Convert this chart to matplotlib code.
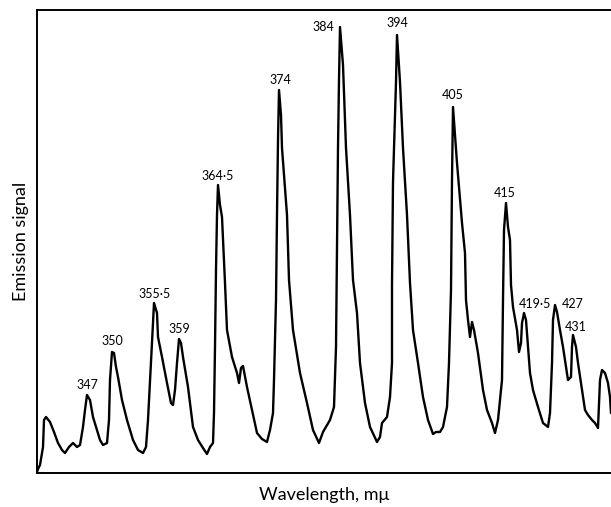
import matplotlib
matplotlib.use("Agg")
import matplotlib.pyplot as plt

# trace (arbitrary scan units / signal units)
scan_pos = [0, 1, 3, 6, 7, 9, 13, 17, 21, 25, 28, 32, 36, 40, 43, 46, 48, 50, 53, 56,
            60, 63, 66, 70, 72, 73, 75, 77, 79, 81, 85, 90, 96, 101, 106, 109, 111, 114,
            116, 117, 120, 121, 125, 130, 134, 136, 138, 140, 142, 144, 146, 151, 156, 161,
            166, 170, 173, 176, 177, 178, 179, 180, 181, 183, 185, 188, 190, 195, 200, 202,
            204, 206, 210, 215, 220, 225, 230, 233, 236, 237, 239, 240, 241, 242, 244, 245,
            250, 252, 256, 263, 270, 276, 282, 286, 293, 297, 299, 300, 301, 302, 303, 306,
            309, 313, 316, 320, 323, 328, 333, 340, 343, 345, 350, 353, 355, 355, 356, 359,
            360, 363, 366, 370, 373, 376, 381, 386, 391, 396, 399, 403, 406, 410, 412, 414,
            415, 416, 420, 425, 428, 429, 431, 433, 435, 437, 441, 446, 450, 455, 458, 461,
            465, 466, 467, 469, 471, 473, 474, 476, 480, 482, 484, 485, 487, 489, 491, 493,
            496, 501, 506, 511, 513, 515, 516, 518, 520, 523, 526, 529, 531, 534, 535, 536,
            539, 541, 545, 548, 551, 555, 558, 561, 563, 565, 568, 571, 573, 574]
signal = [1, 4, 8, 26, 53, 56, 51, 41, 30, 23, 20, 26, 30, 26, 28, 46, 63, 78, 73, 56,
          43, 33, 28, 30, 53, 93, 121, 120, 106, 96, 73, 53, 33, 23, 20, 26, 53, 110,
          150, 170, 160, 136, 116, 90, 70, 68, 83, 110, 134, 130, 116, 86, 46, 33,
          25, 19, 26, 30, 60, 126, 203, 258, 288, 268, 256, 190, 143, 116, 100, 90,
          105, 107, 86, 63, 40, 34, 31, 43, 60, 93, 173, 258, 333, 383, 358, 325,
          258, 193, 143, 100, 70, 43, 30, 41, 53, 66, 126, 225, 325, 393, 446, 408,
          325, 258, 193, 160, 110, 70, 46, 31, 36, 50, 56, 76, 110, 188, 291, 391,
          438, 391, 325, 258, 190, 143, 110, 76, 53, 39, 41, 41, 46, 66, 110, 183,
          293, 366, 310, 250, 220, 173, 153, 136, 151, 143, 120, 83, 63, 50, 40, 53,
          93, 173, 243, 270, 246, 233, 188, 166, 143, 121, 130, 150, 160, 153, 126, 100,
          83, 66, 50, 46, 60, 110, 153, 168, 161, 143, 126, 106, 93, 96, 126, 138,
          126, 110, 83, 63, 58, 53, 50, 45, 93, 103, 100, 90, 76, 60]

# labelled peaks (wavelength in mu)
peak_labels = ["347", "350", "355·5", "359", "364·5", "374", "384", "394", "405",
               "415", "419·5", "427", "431"]
peak_pos = [50, 75, 117, 142, 181, 242, 303, 360, 416, 469, 487, 518, 536]
peak_signal = [78, 121, 170, 134, 288, 383, 446, 438, 366, 270, 160, 168, 138]

# where each label sits relative to its peak (pixels)
label_offsets = [(0, 10), (0, 11), (1, 9), (0, 10), (0, 9), (1, 10), (-17, 0),
                 (0, 12), (0, 12), (-1, 10), (11, 9), (18, 1), (3, 8)]

plt.rcParams['font.family'] = ['Lato', 'DejaVu Sans']

fig = plt.figure(figsize=(6.11, 5.07), dpi=100)
ax = fig.add_axes([37 / 611, 34 / 507, 574 / 611, 463 / 507])

ax.plot(scan_pos, signal, color='black', lw=1.7, solid_joinstyle='round',
        solid_capstyle='round')

for lab, px, py, (dx, dy) in zip(peak_labels, peak_pos, peak_signal, label_offsets):
    ax.annotate(lab, (px, py), xytext=(dx, dy), textcoords='offset pixels',
                ha='center', va='center', fontsize=9, color='black')

ax.set_xlim(0, 574)
ax.set_ylim(0, 463)
ax.set_xticks([])
ax.set_yticks([])
ax.spines['right'].set_visible(False)
for side in ['left', 'top', 'bottom']:
    ax.spines[side].set_linewidth(1.4)

ax.set_xlabel('Wavelength, mμ', fontsize=13, labelpad=10)
ax.set_ylabel('Emission signal', fontsize=13, labelpad=6)

fig.savefig('out.png', dpi=100)
